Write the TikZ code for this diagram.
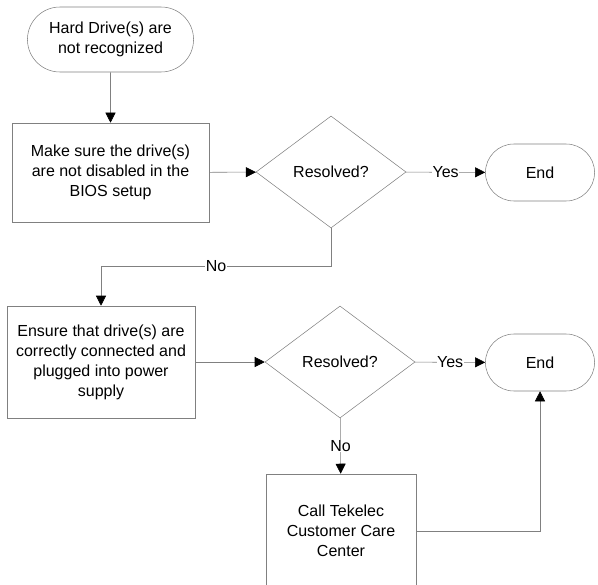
\documentclass[tikz,border=0pt]{standalone}
\usepackage{fontspec}
\setmainfont{Liberation Sans}
\usetikzlibrary{arrows.meta, shapes.geometric, shapes.misc, calc}

\begin{document}
\begin{tikzpicture}[x=0.75pt, y=-0.75pt,
        every node/.style={font=\fontsize{12}{15}\selectfont, align=center},
        term/.style={rounded rectangle, draw=gray, minimum width=88.5pt, minimum height=42.75pt},
        procbox/.style={rectangle, draw=gray, inner sep=0pt},
        decide/.style={diamond, draw=gray, inner sep=0pt, minimum width=112.5pt, minimum height=84pt},
        arr/.style={draw=gray, -{Triangle[length=7.5pt, width=7.5pt, color=black]}},
        lbl/.style={fill=white, inner sep=0.3pt}]

    \useasboundingbox (0,0) rectangle (598,584);
    \clip (0,0) rectangle (598,584);

    %% top row
    \node[term, minimum width=131.25pt, minimum height=48.75pt] (start) at (110.5, 39.5) {Hard Drive(s) are\\not recognized};
    \node[procbox, minimum width=147.75pt, minimum height=74.25pt] (bios) at (110.5, 172.5) {Make sure the drive(s)\\are not disabled in the\\BIOS setup};
    \node[decide] (res1) at (331, 172) {Resolved?};
    \node[term] (end1) at (540, 172.5) {End};

    \draw[arr] (start) -- (bios);
    \draw[arr] (bios) -- (res1);
    \draw[arr] (res1) -- node[lbl]{Yes} (end1);

    %% second row
    \node[procbox, minimum width=141pt, minimum height=84pt] (power) at (101, 362) {Ensure that drive(s) are\\correctly connected and\\plugged into power\\supply};
    \node[decide] (res2) at (340, 362) {Resolved?};
    \node[term] (end2) at (540, 362.5) {End};

    \draw[arr] (res1.south) -- ++(0, 38) -| node[lbl, pos=0.25]{No} (power.north);
    \draw[arr] (power) -- (res2);
    \draw[arr] (res2) -- node[lbl]{Yes} (end2);

    %% support
    \node[procbox, minimum width=112.5pt, minimum height=85.5pt] (tekelec) at (341, 531) {Call Tekelec\\Customer Care\\Center};
    \draw[arr] (res2) -- node[lbl]{No} (tekelec);
    \draw[arr] (tekelec.east) -| (end2.south);
\end{tikzpicture}
\end{document}
